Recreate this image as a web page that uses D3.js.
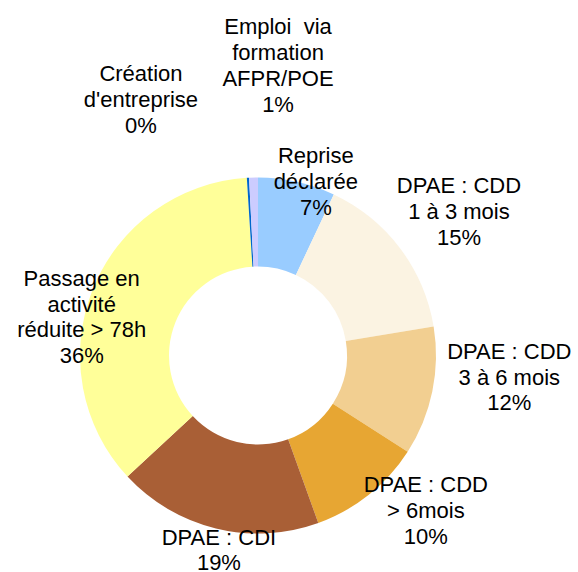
<!DOCTYPE html>
<html>
<head>
<meta charset="utf-8">
<script src="https://cdn.jsdelivr.net/npm/d3@7"></script>
<style>
  html, body { margin: 0; padding: 0; background: #ffffff; }
  svg { display: block; }
  text { font-family: "Liberation Sans", Arial, sans-serif; font-size: 22px; fill: #000; }
</style>
</head>
<body>
<svg id="chart" width="578" height="572"></svg>
<script>
// ---- data ----
const categories = [
  "Reprise\ndéclarée",
  "DPAE : CDD\n1 à 3 mois",
  "DPAE : CDD\n3 à 6 mois",
  "DPAE : CDD\n> 6mois",
  "DPAE : CDI",
  "Passage en\nactivité\nréduite > 78h",
  "Création\nd'entreprise",
  "Emploi  via\nformation\nAFPR/POE"
];
const values = [7.0, 15.4, 11.7, 10.4, 18.6, 35.9, 0.2, 0.8];
const colors = ["#99CCFF", "#FBF3E2", "#F2CF91", "#E7A633", "#A95F36", "#FFFF99", "#0066CC", "#CCCCFF"];
// label nudges (px) from the outer edge point at each slice's mid-angle
const labelNudges = [[19, -1], [59, -37], [77, -15], [57, 15], [3, 21], [-11, 27], [-107, -79], [24.5, -112.5]];

// ---- layout ----
const cx = 258, cy = 355.5, rOuter = 178, rInner = 89;
const lineH = 25.8, capH = 16;

const svg = d3.select("#chart");
const g = svg.append("g").attr("transform", `translate(${cx},${cy})`);

const total = d3.sum(values);
const dataset = categories.map((c, i) => ({ name: c, value: values[i], color: colors[i], nudge: labelNudges[i] }));

const pie = d3.pie().value(d => d.value).sort(null).startAngle(0).endAngle(2 * Math.PI);
const arc = d3.arc().innerRadius(rInner).outerRadius(rOuter);
const arcs = pie(dataset);

g.selectAll("path.slice")
  .data(arcs)
  .join("path")
  .attr("class", "slice")
  .attr("d", arc)
  .attr("fill", d => d.data.color);

const pct = d3.format(".0f");
const labels = g.selectAll("text.lbl")
  .data(arcs)
  .join("text")
  .attr("class", "lbl")
  .attr("text-anchor", "middle")
  .each(function(d) {
    const a = (d.startAngle + d.endAngle) / 2;
    const x = rOuter * Math.sin(a) + d.data.nudge[0];
    const yc = -rOuter * Math.cos(a) + d.data.nudge[1];
    const lines = d.data.name.split("\n").concat([pct(d.data.value / total * 100) + "%"]);
    const n = lines.length;
    const y0 = yc - ((n - 1) * lineH + capH) / 2 + capH;
    const t = d3.select(this);
    lines.forEach((ln, i) => {
      t.append("tspan")
        .attr("x", x)
        .attr("y", y0 + i * lineH)
        .attr("xml:space", "preserve")
        .style("white-space", "pre")
        .text(ln);
    });
  });
</script>
</body>
</html>
